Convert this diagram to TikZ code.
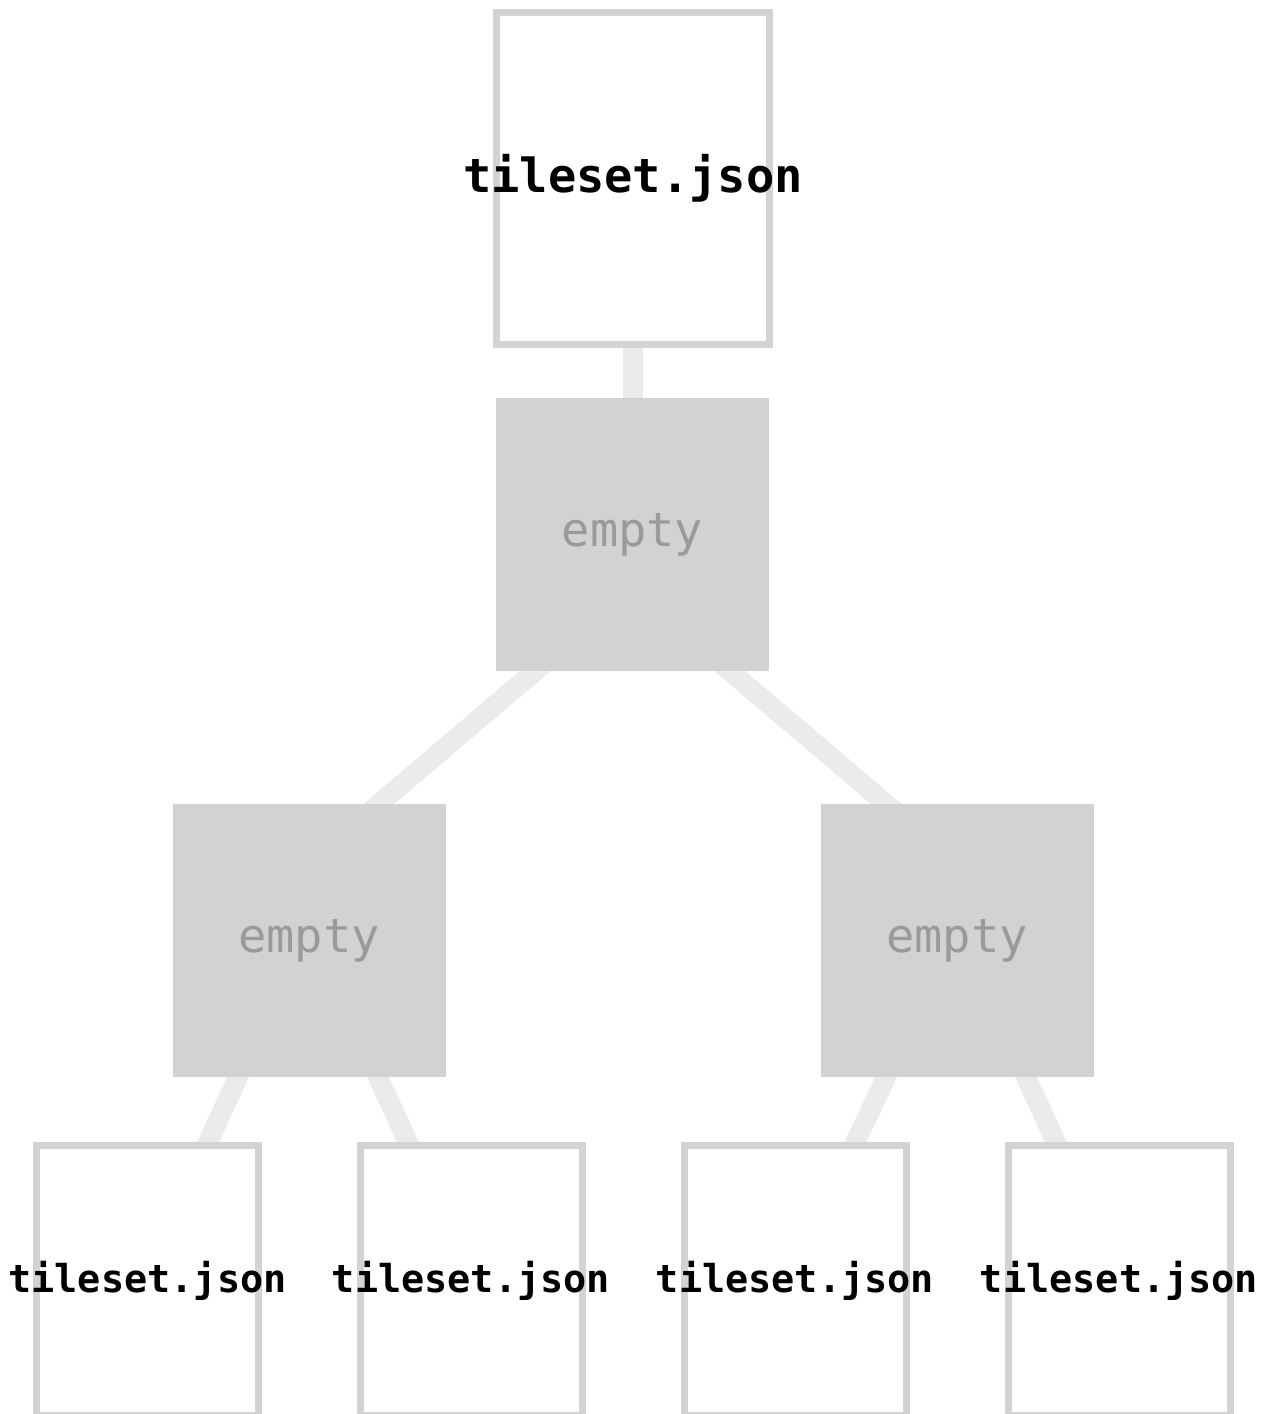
\documentclass[tikz,border=0pt]{standalone}
\usepackage{fontspec}
\newfontfamily\monofont{DejaVu Sans Mono}
\usetikzlibrary{calc,backgrounds}
\definecolor{boxborder}{HTML}{D3D3D3}
\definecolor{emptyfill}{HTML}{D2D2D2}
\definecolor{linkcol}{HTML}{EBEBEB}
\definecolor{emptytext}{HTML}{9A9A9A}
\newcommand{\ovl}[1]{\makebox[0pt][c]{#1}}
\newcommand{\ovlleaf}[1]{\raisebox{2.5pt}{\makebox[0pt][c]{#1}}}
\begin{document}
\begin{tikzpicture}[x=1pt,y=-1pt,
  tilebox/.style={draw=boxborder, line width=7pt, fill=white, inner sep=0pt,
    text=black},
  topbox/.style={tilebox, minimum width=273pt, minimum height=332pt,
    font={\monofont\bfseries\fontsize{47}{56}\selectfont}},
  leafbox/.style={tilebox, minimum width=222pt, minimum height=270pt,
    font={\monofont\bfseries\fontsize{38.5}{46}\selectfont}},
  emptybox/.style={fill=emptyfill, draw=none, inner sep=0pt,
    minimum width=273pt, minimum height=273pt, text=emptytext,
    font={\monofont\fontsize{47}{56}\selectfont}},
  link/.style={draw=linkcol, line width=20pt, shorten <=-12pt, shorten >=-12pt}]
\clip (0,0) rectangle (1277,1414);
\node[topbox] (root) at (633,178.5) {\ovl{tileset.json}};
\node[emptybox] (e1) at (632.5,534.5) {empty};
\node[emptybox] (e2) at (309,940.5) {empty};
\node[emptybox] (e3) at (957,940.5) {empty};
\node[leafbox] (b1) at (147.5,1280.5) {\ovlleaf{tileset.json}};
\node[leafbox] (b2) at (471,1280.5) {\ovlleaf{tileset.json}};
\node[leafbox] (b3) at (795,1280.5) {\ovlleaf{tileset.json}};
\node[leafbox] (b4) at (1119,1280.5) {\ovlleaf{tileset.json}};
\begin{scope}[on background layer]
  \draw[link] (root.south) -- (root.south |- e1.north);
  \draw[link] ($(e1.south)+(-97.5,0)$) -- ($(e2.north)+(70,0)$);
  \draw[link] ($(e1.south)+(97.5,0)$) -- ($(e3.north)+(-71,0)$);
  \draw[link] ($(e2.south)+(-71,0)$) -- ($(b1.north)+(60.5,0)$);
  \draw[link] ($(e2.south)+(69,0)$) -- ($(b2.north)+(-63,0)$);
  \draw[link] ($(e3.south)+(-71,0)$) -- ($(b3.north)+(60.5,0)$);
  \draw[link] ($(e3.south)+(69,0)$) -- ($(b4.north)+(-63,0)$);
\end{scope}
\end{tikzpicture}
\end{document}
